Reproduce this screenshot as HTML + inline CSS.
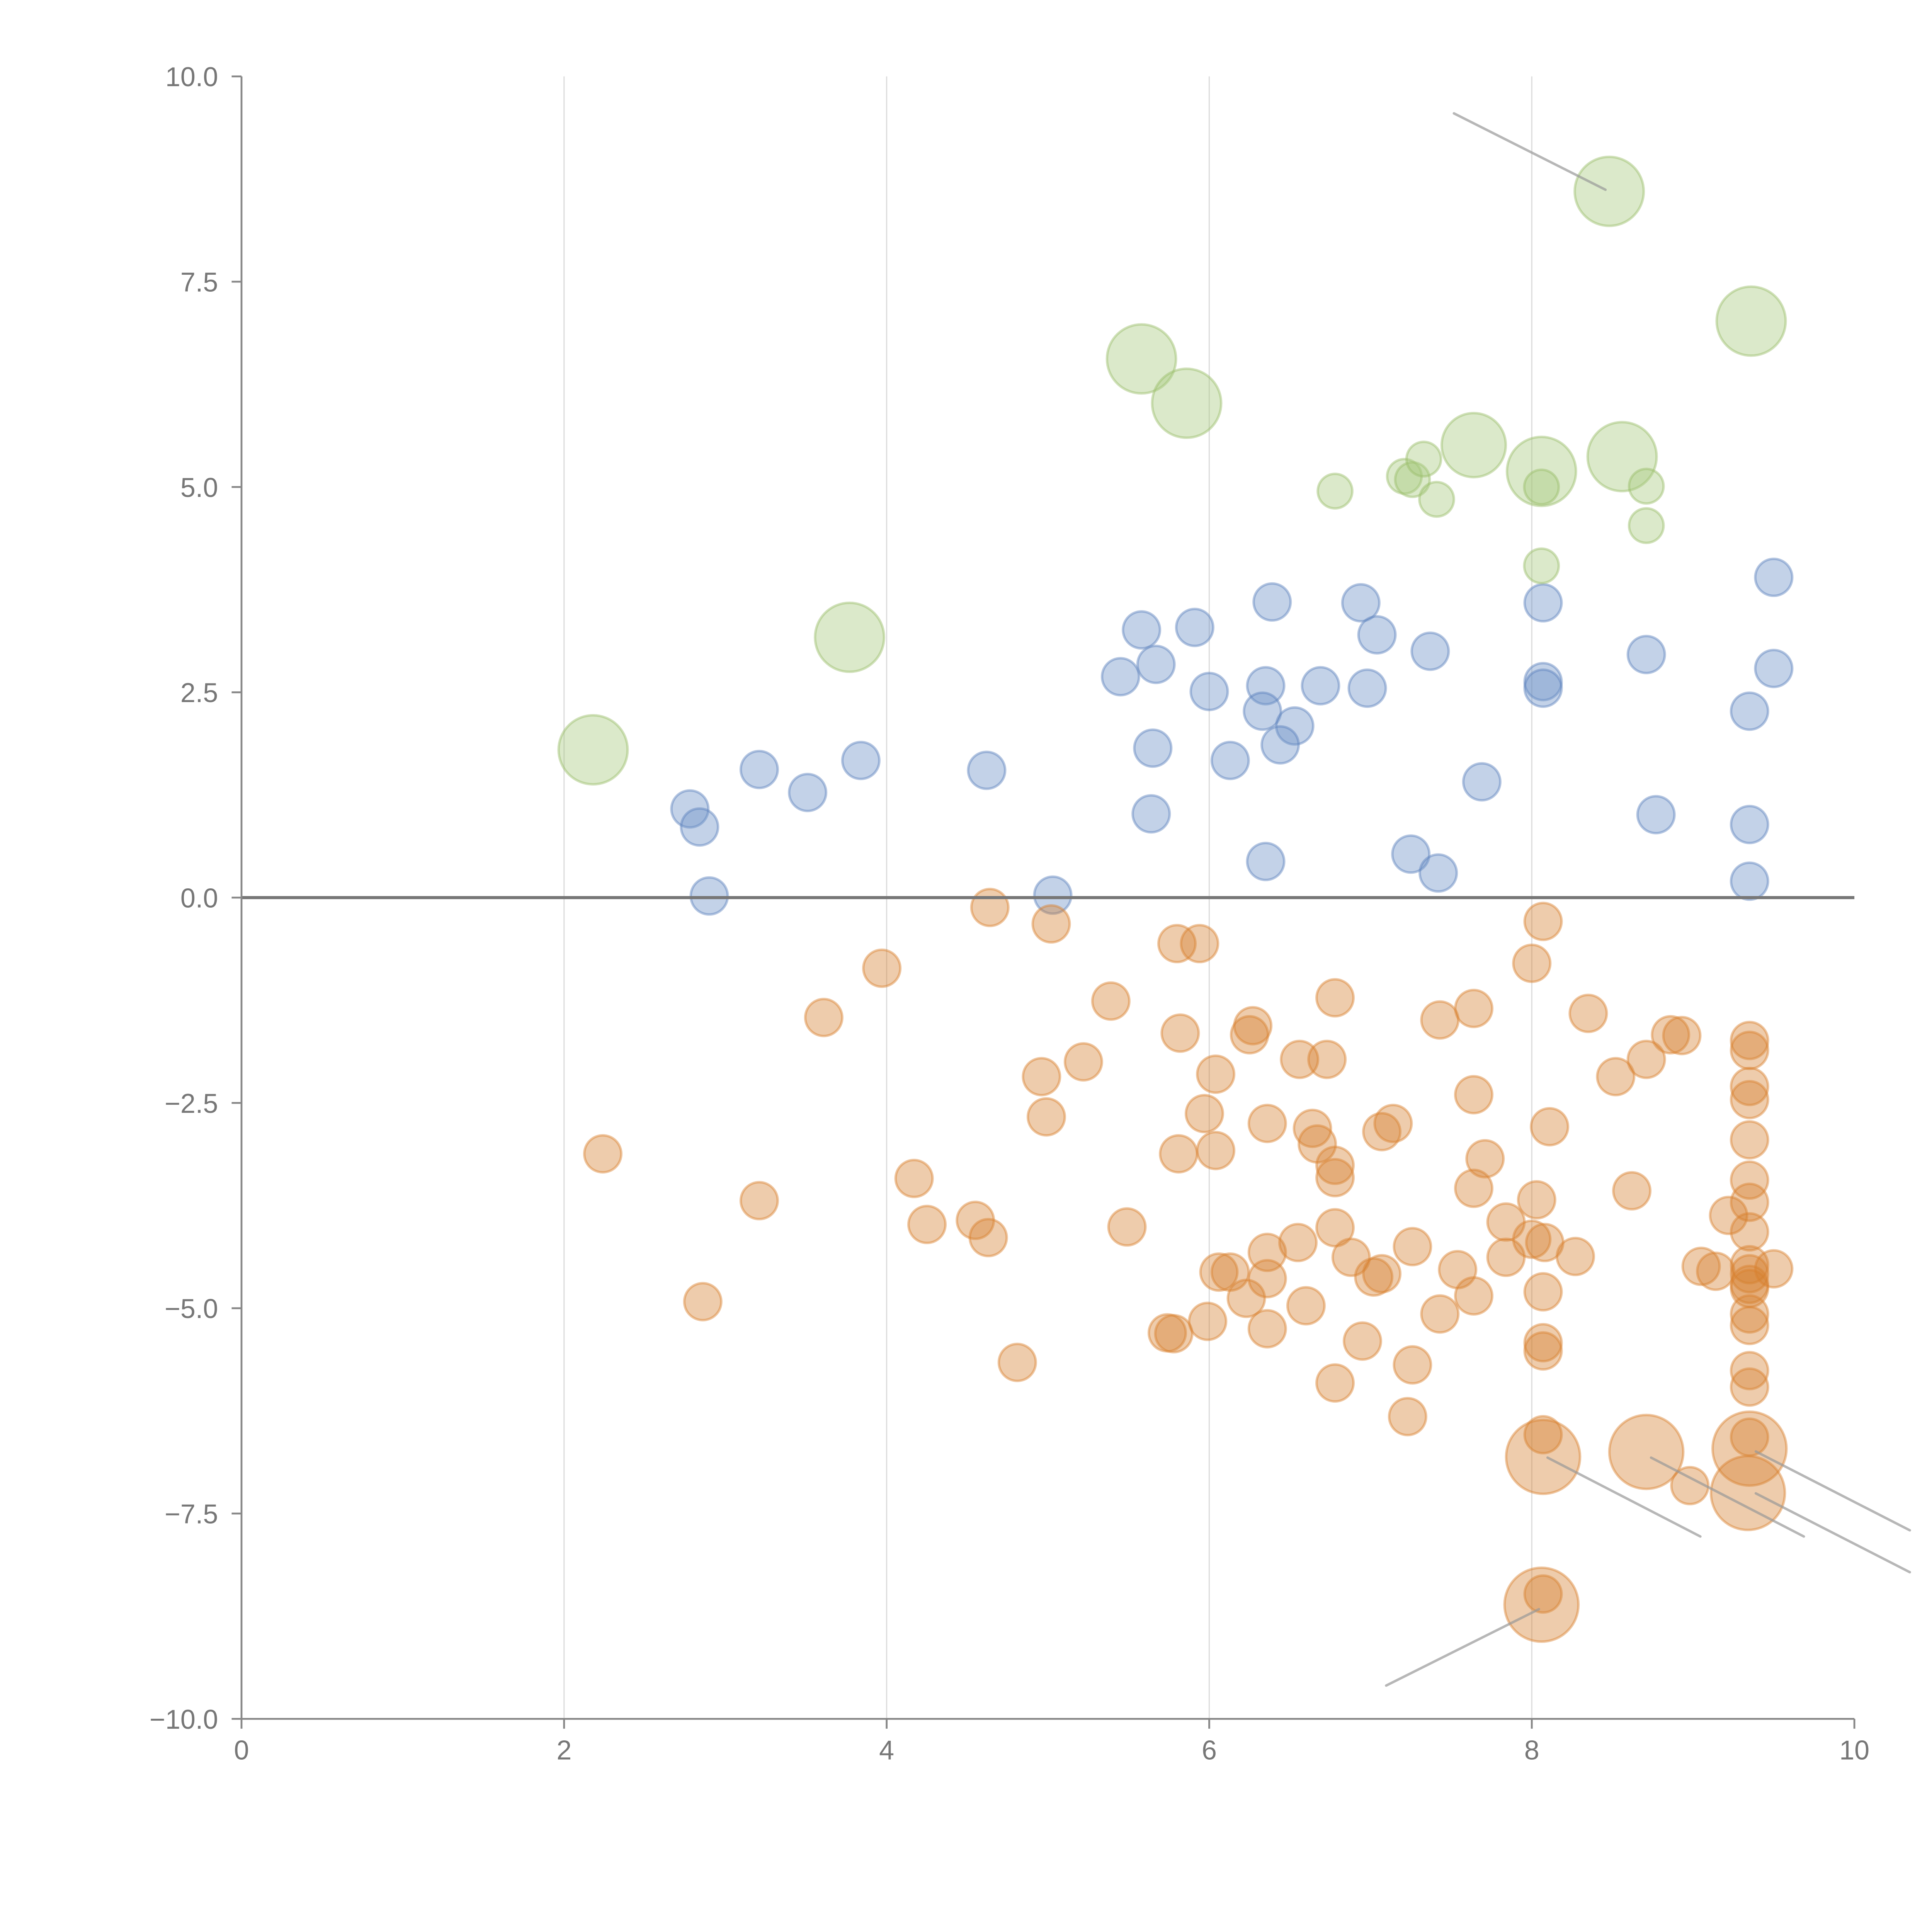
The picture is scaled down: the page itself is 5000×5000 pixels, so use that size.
<!DOCTYPE html>
<html><head><meta charset="utf-8"><style>html,body{margin:0;padding:0;background:#fff}svg{display:block}text{font-family:"Liberation Sans",sans-serif;fill:#777}</style></head>
<body>
<svg id="chart" width="5000" height="5000" viewBox="0 0 1568 1568" xmlns="http://www.w3.org/2000/svg">
<g id="grid"></g>
<g id="marks"></g>
<g id="axes"></g>
</svg>
<script>
const xTicks=[0,2,4,6,8,10];
const yTicks=[10,7.5,5,2.5,0,-2.5,-5,-7.5,-10];
const yTickLabels=["10.0","7.5","5.0","2.5","0.0","\u22122.5","\u22125.0","\u22127.5","\u221210.0"];
const blueX=[2.78,2.84,2.90,3.21,3.51,3.84,4.62,5.03,5.45,5.58,5.67,5.65,5.64,5.91,6.00,6.13,6.39,6.35,6.33,6.53,6.44,6.35,6.69,6.94,7.04,6.98,7.37,7.25,7.42,7.69,8.07,8.07,8.07,8.71,8.77,9.35,9.35,9.35,9.50,9.50];
const blueY=[1.08,0.86,0.02,1.56,1.28,1.67,1.55,0.03,2.69,3.26,2.84,1.82,1.02,3.29,2.51,1.67,3.60,2.58,2.27,2.09,1.86,0.44,2.58,3.59,3.20,2.55,3.00,0.53,0.30,1.41,3.59,2.63,2.55,2.96,1.01,2.27,0.89,0.20,3.90,2.79];
const greenX=[2.18,3.77,5.58,5.86,7.64,8.06,8.56,8.48,9.36,6.78,7.21,7.26,7.33,7.41,8.06,8.06,8.71,8.71];
const greenY=[1.80,3.17,6.56,6.02,5.51,5.19,5.37,8.60,7.02,4.95,5.13,5.09,5.34,4.85,5.00,4.04,5.01,4.53];
const greenSize=[28,28,28,28,26,28,28,28,28,14,14,14,14,14,14,14,14,14];
const orangeX=[4.64,5.02,3.97,3.61,2.24,3.21,2.86,4.17,4.25,4.55,4.63,4.81,4.96,4.99,5.22,5.39,5.49,5.80,5.94,5.82,5.81,5.74,5.78,5.97,6.04,6.04,5.99,6.06,6.13,6.23,6.25,6.27,6.36,6.36,6.36,6.36,6.55,6.56,6.60,6.64,6.67,6.73,6.78,6.78,6.78,6.78,6.78,6.88,6.95,7.02,7.07,7.07,7.14,7.26,7.26,7.23,7.43,7.43,7.54,7.64,7.64,7.64,7.64,7.71,7.84,7.84,8.00,8.07,8.03,8.00,8.08,8.07,8.07,8.07,8.07,8.07,8.11,8.27,8.35,8.52,8.62,8.71,8.86,8.93,8.98,9.05,9.14,9.22,9.35,9.35,9.35,9.35,9.35,9.35,9.35,9.35,9.35,9.35,9.35,9.35,9.35,9.35,9.35,9.35,9.35,9.50,8.07,8.71,9.35,9.34,8.06];
const orangeY=[-0.12,-0.32,-0.86,-1.46,-3.12,-3.69,-4.92,-3.42,-3.98,-3.93,-4.14,-5.66,-2.18,-2.67,-2.00,-1.26,-4.01,-0.56,-0.56,-1.65,-3.12,-5.30,-5.31,-2.63,-2.15,-3.08,-5.16,-4.56,-4.56,-4.88,-1.67,-1.56,-2.75,-4.32,-4.64,-5.25,-4.20,-1.97,-4.97,-2.81,-3.00,-1.97,-1.22,-3.26,-3.41,-4.02,-5.91,-4.38,-5.40,-4.62,-4.58,-2.85,-2.75,-4.25,-5.69,-6.32,-1.49,-5.07,-4.53,-1.35,-2.40,-3.54,-4.85,-3.18,-3.95,-4.38,-0.80,-0.29,-3.68,-4.16,-4.20,-4.80,-5.42,-5.52,-6.54,-8.48,-2.79,-4.37,-1.41,-2.18,-3.57,-1.97,-1.67,-1.68,-7.16,-4.49,-4.55,-3.87,-1.74,-1.86,-2.30,-2.46,-2.95,-3.44,-3.71,-4.07,-4.47,-4.58,-4.71,-4.76,-5.07,-5.21,-5.76,-5.96,-6.57,-4.52,-6.81,-6.75,-6.71,-7.25,-8.61];
const orangeBigCount=5;

const X0=196,X1=1505,Y0=62,Y1=1395;
const sx=v=>X0+(v-0)/(10-0)*(X1-X0);
const sy=v=>Y1-(v+10)/20*(Y1-Y0);
const NS="http://www.w3.org/2000/svg";
function mk(tag,attrs,parent){const e=document.createElementNS(NS,tag);for(const k in attrs)e.setAttribute(k,attrs[k]);parent.appendChild(e);return e;}
const grid=document.getElementById('grid'),marks=document.getElementById('marks'),axes=document.getElementById('axes');

xTicks.slice(1,5).forEach(t=>{
  const l=mk('line',{x1:sx(t),x2:sx(t),y1:Y0,y2:Y1,stroke:'#ddd','stroke-width':1},grid);
  
  
});

function dot(x,y,r,fill,stroke,name){
  const c=mk('circle',{cx:sx(x),cy:sy(y),r:r,fill:fill,'fill-opacity':0.4,stroke:stroke,'stroke-opacity':0.45,'stroke-width':2},marks);
  
  
}
blueX.forEach((x,i)=>dot(x,blueY[i],15,'#6a8fc6','#5a80bc','blue-point'));
greenX.forEach((x,i)=>dot(x,greenY[i],greenSize[i],'#a6c77a','#98bd68','green-point'));
orangeX.forEach((x,i)=>dot(x,orangeY[i],i>=orangeX.length-orangeBigCount?30:15,'#d4802f','#d9802f','orange-point'));

[[1180,92,1303,154],[1256,1183,1380,1247],[1340,1183,1464,1247],[1425,1178,1550,1242],[1425,1212,1550,1276],[1249,1306,1125,1368]].forEach(a=>{
  const l=mk('line',{x1:a[0],y1:a[1],x2:a[2],y2:a[3],stroke:'#999','stroke-opacity':0.7,'stroke-width':2,'stroke-linecap':'round'},marks);
  
  
});

const z=mk('line',{x1:X0,x2:X1,y1:sy(0),y2:sy(0),stroke:'#777','stroke-width':2.5},axes);


const ya=mk('line',{x1:X0,x2:X0,y1:Y0,y2:Y1,stroke:'#888','stroke-width':1.5},axes);


const xa=mk('line',{x1:X0,x2:X1,y1:Y1,y2:Y1,stroke:'#888','stroke-width':1.5},axes);



xTicks.forEach(t=>{
  const tk=mk('line',{x1:sx(t),x2:sx(t),y1:Y1,y2:Y1+8,stroke:'#888','stroke-width':1.5},axes);
  
  
  const tx=mk('text',{x:sx(t),y:Y1+33,'text-anchor':'middle','font-size':22},axes);
  tx.textContent=String(t);
  
  
});
yTicks.forEach((t,i)=>{
  const tk=mk('line',{x1:X0-8,x2:X0,y1:sy(t),y2:sy(t),stroke:'#888','stroke-width':1.5},axes);
  
  
  const tx=mk('text',{x:X0-19,y:sy(t)+8,'text-anchor':'end','font-size':22},axes);
  tx.textContent=yTickLabels[i];
  
  
});
</script>
</body></html>
